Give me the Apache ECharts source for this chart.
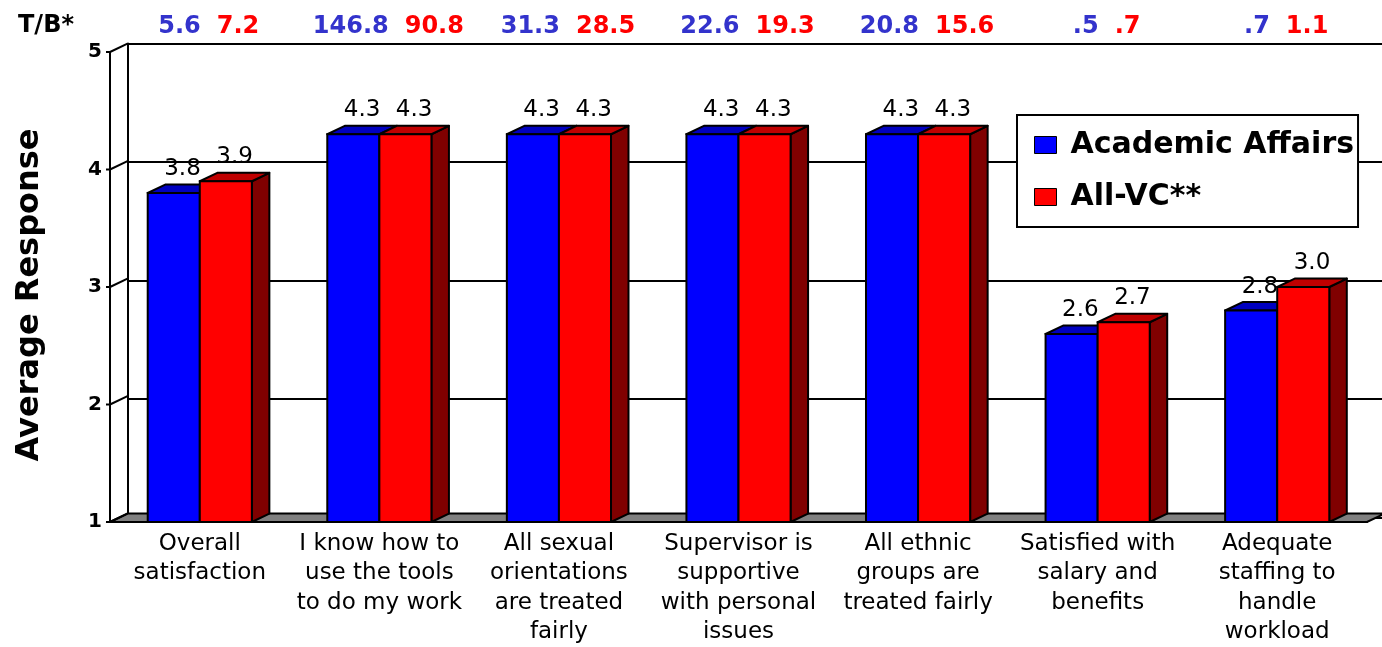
<!DOCTYPE html>
<html>
<head>
<meta charset="utf-8">
<script src="https://cdn.jsdelivr.net/npm/echarts@6/dist/echarts.min.js"></script>
<style>
html, body { margin: 0; padding: 0; background: #fff; }
#chart { width: 1382px; height: 647px; }
</style>
</head>
<body>
<div id="chart"></div>
<script>
var categories = [
    'Overall\nsatisfaction',
    'I know how to\nuse the tools\nto do my work',
    'All sexual\norientations\nare treated\nfairly',
    'Supervisor is\nsupportive\nwith personal\nissues',
    'All ethnic\ngroups are\ntreated fairly',
    'Satisfied with\nsalary and\nbenefits',
    'Adequate\nstaffing to\nhandle\nworkload'
];
var academicAffairs = [3.8, 4.3, 4.3, 4.3, 4.3, 2.6, 2.8];
var allVC = [3.9, 4.3, 4.3, 4.3, 4.3, 2.7, 3.0];
var tbAcademic = ['5.6', '146.8', '31.3', '22.6', '20.8', '.5', '.7'];
var tbAllVC = ['7.2', '90.8', '28.5', '19.3', '15.6', '.7', '1.1'];
var yTicks = [1, 2, 3, 4, 5];

// fake 3d depth
var DX = 17.5;
var DY = 8.4;
var BAR_RATIO = 0.29;
var FONT = 'DejaVu Sans';

function toData(arr) {
    return arr.map(function (v, i) { return [i, v]; });
}

function barRenderer(side, front, top, sideColor) {
    return function (params, api) {
        var cat = api.value(0);
        var val = api.value(1);
        var bw = api.size([1, 0])[0] * BAR_RATIO;
        var p = api.coord([cat, val]);
        var b = api.coord([cat, yTicks[0]]);
        var x = side === 0 ? p[0] - bw : p[0];
        var yt = p[1];
        var yb = b[1];
        return {
            type: 'group',
            children: [
                {
                    type: 'polygon',
                    shape: { points: [[x + bw, yt], [x + bw + DX, yt - DY], [x + bw + DX, yb - DY], [x + bw, yb]] },
                    style: { fill: sideColor, stroke: '#000', lineWidth: 2, lineJoin: 'round' }
                },
                {
                    type: 'polygon',
                    shape: { points: [[x, yt], [x + DX, yt - DY], [x + bw + DX, yt - DY], [x + bw, yt]] },
                    style: { fill: top, stroke: '#000', lineWidth: 2, lineJoin: 'round' }
                },
                {
                    type: 'rect',
                    shape: { x: x, y: yt, width: bw, height: yb - yt },
                    style: { fill: front, stroke: '#000', lineWidth: 2 }
                },
                {
                    type: 'text',
                    x: x + bw / 2 + DX / 2,
                    y: yt - DY - 4,
                    style: {
                        text: val.toFixed(1),
                        fill: '#000',
                        font: '23px "' + FONT + '"',
                        align: 'center',
                        verticalAlign: 'bottom'
                    }
                }
            ]
        };
    };
}

function wallRenderer(params, api) {
    var cs = params.coordSys;
    var v = api.value(1);
    var y = api.coord([0, v])[1];
    var x0 = cs.x;
    var children = [{
        type: 'line',
        shape: { x1: x0 - 4, y1: y, x2: x0, y2: y },
        style: { stroke: '#000', lineWidth: 2 }
    }, {
        type: 'line',
        shape: { x1: x0, y1: y, x2: x0 + DX, y2: y - DY },
        style: { stroke: '#000', lineWidth: 2 }
    }];
    if (v === yTicks[0]) {
        children.unshift({
            type: 'polygon',
            shape: { points: [[x0, y], [x0 + DX, y - DY], [x0 + cs.width + DX, y - DY], [x0 + cs.width, y]] },
            style: { fill: '#808080', stroke: '#000', lineWidth: 2 }
        });
    }
    return { type: 'group', children: children };
}

var chart = echarts.init(document.getElementById('chart'));

chart.setOption({
    animation: false,
    backgroundColor: '#fff',
    textStyle: { fontFamily: FONT },
    title: {
        text: 'T/B*',
        left: 18,
        top: 14,
        padding: 0,
        textStyle: { fontFamily: FONT, fontSize: 24, fontWeight: 'bold', color: '#000', lineHeight: 24 }
    },
    legend: {
        data: ['Academic Affairs', 'All-VC**'],
        orient: 'vertical',
        left: 1017,
        top: 115,
        padding: [13, 4, 13, 17],
        itemWidth: 22,
        itemHeight: 17,
        itemGap: 18,
        icon: 'rect',
        backgroundColor: '#fff',
        borderColor: '#000',
        borderWidth: 2,
        itemStyle: { borderColor: '#000', borderWidth: 1 },
        textStyle: { fontFamily: FONT, fontSize: 30, fontWeight: 'bold', color: '#000', lineHeight: 34, padding: [0, 0, 0, 9] }
    },
    grid: [
        { left: 110, right: 15, top: 52, bottom: 121 },
        { left: 127.5, right: 0, top: 43.6, bottom: 129.4 }
    ],
    xAxis: [
        {
            type: 'category',
            gridIndex: 0,
            data: categories,
            axisLine: { lineStyle: { color: '#000', width: 2 } },
            axisTick: { show: false },
            axisLabel: {
                interval: 0,
                margin: 7,
                color: '#000',
                fontFamily: FONT,
                fontSize: 23,
                lineHeight: 29.5
            }
        },
        {
            type: 'category',
            gridIndex: 0,
            position: 'top',
            data: categories,
            axisLine: { show: false },
            axisTick: { show: false },
            axisLabel: {
                interval: 0,
                margin: 13,
                formatter: function (value, index) {
                    return '{b|' + tbAcademic[index] + '}{r|' + tbAllVC[index] + '}';
                },
                rich: {
                    b: { color: '#3333cc', fontFamily: FONT, fontSize: 24, fontWeight: 'bold', lineHeight: 24, padding: [0, 0, 0, 18] },
                    r: { color: '#ff0000', fontFamily: FONT, fontSize: 24, fontWeight: 'bold', lineHeight: 24, padding: [0, 0, 0, 16] }
                }
            }
        },
        {
            type: 'category',
            gridIndex: 1,
            data: categories,
            show: false
        }
    ],
    yAxis: [
        {
            type: 'value',
            gridIndex: 0,
            min: 1,
            max: 5,
            interval: 1,
            name: 'Average Response',
            nameLocation: 'middle',
            nameRotate: 90,
            nameGap: 64,
            nameTextStyle: { fontFamily: FONT, fontSize: 32, fontWeight: 'bold', color: '#000', padding: [0, 16, 0, 0] },
            axisLine: { show: true, lineStyle: { color: '#000', width: 2 } },
            axisTick: { show: false },
            splitLine: { show: false },
            axisLabel: { margin: 8, color: '#000', fontFamily: FONT, fontSize: 20, fontWeight: 'bold' }
        },
        {
            type: 'value',
            gridIndex: 1,
            min: 1,
            max: 5,
            interval: 1,
            axisLine: { show: true, lineStyle: { color: '#000', width: 2 } },
            axisTick: { show: false },
            axisLabel: { show: false },
            splitLine: { show: true, lineStyle: { color: '#000', width: 2 } }
        }
    ],
    series: [
        {
            type: 'custom',
            name: 'walls',
            xAxisIndex: 0,
            yAxisIndex: 0,
            silent: true,
            renderItem: wallRenderer,
            data: yTicks.map(function (v) { return [0, v]; })
        },
        {
            type: 'custom',
            name: 'Academic Affairs',
            xAxisIndex: 0,
            yAxisIndex: 0,
            itemStyle: { color: '#0000ff' },
            renderItem: barRenderer(0, '#0000ff', '#0000c0', '#000080'),
            data: toData(academicAffairs)
        },
        {
            type: 'custom',
            name: 'All-VC**',
            xAxisIndex: 0,
            yAxisIndex: 0,
            itemStyle: { color: '#ff0000' },
            renderItem: barRenderer(1, '#ff0000', '#c00000', '#800000'),
            data: toData(allVC)
        }
    ]
});
</script>
</body>
</html>
